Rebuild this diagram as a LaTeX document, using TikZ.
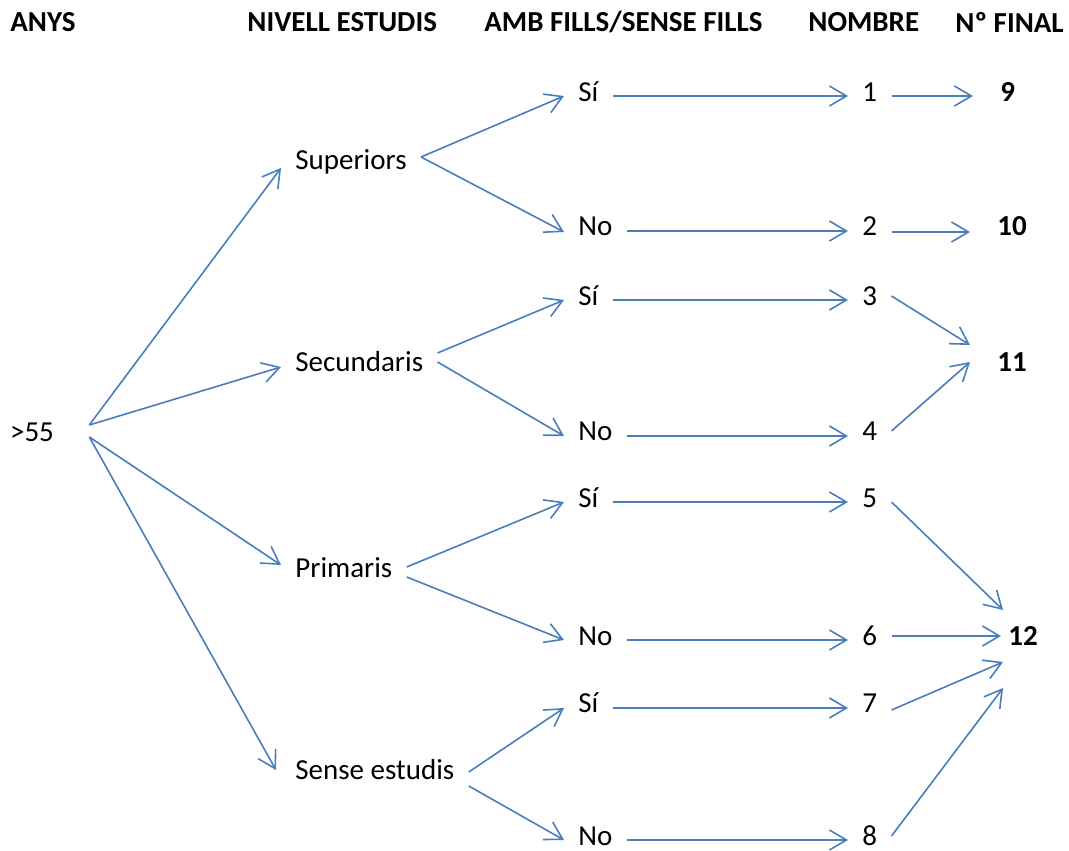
\documentclass[tikz,border=0pt]{standalone}
\usepackage{fontspec}
\setmainfont{Carlito}
\usepackage{tikz}
\usetikzlibrary{arrows.meta}

\definecolor{linkblue}{RGB}{74,126,187}

\begin{document}
\begin{tikzpicture}[x=0.5pt, y=-0.5pt,
    font=\fontsize{14.5}{17}\selectfont,
    head/.style={anchor=west, inner sep=0pt, font=\fontsize{14.5}{17}\selectfont\bfseries},
    item/.style={anchor=west, inner xsep=7pt, inner ysep=0pt, text height=9.3pt, text depth=0pt},
    final/.style={item, inner xsep=13.5pt, font=\fontsize{14.5}{17}\selectfont\bfseries},
    link/.style={-{Straight Barb[length=8.5pt, width=10pt]}, draw=linkblue, line width=0.8pt}]
  \useasboundingbox (0,0) rectangle (1069,850);

  % column titles
  \node[head] at (10,22) (tAnys) {ANYS};
  \node[head] at (247,22) (tNivell) {NIVELL ESTUDIS};
  \node[head] at (484,22) (tFills) {AMB FILLS/SENSE FILLS};
  \node[head] at (808,22) (tNombre) {NOMBRE};
  \node[head] at (955,22) (tFinal) {Nº FINAL};

  % tree
  \node[item, anchor=center, inner xsep=17.5pt] at (32,432) (age) {>55};

  \node[item] at (281,160) (sup) {Superiors};
  \node[item] at (281,362) (sec) {Secundaris};
  \node[item] at (281,568) (pri) {Primaris};
  \node[item] at (281,770) (sen) {Sense estudis};

  \node[item] at (564,92) (si1) {Sí};
  \node[item] at (564,226) (no1) {No};
  \node[item] at (564,296) (si2) {Sí};
  \node[item] at (564,431) (no2) {No};
  \node[item] at (564,498) (si3) {Sí};
  \node[item] at (564,636) (no3) {No};
  \node[item] at (564,703) (si4) {Sí};
  \node[item] at (564,836) (no4) {No};

  \node[item] at (848,92) (n1) {1};
  \node[item] at (848,226) (n2) {2};
  \node[item] at (848,296) (n3) {3};
  \node[item] at (848,431) (n4) {4};
  \node[item] at (848,498) (n5) {5};
  \node[item] at (848,636) (n6) {6};
  \node[item] at (848,703) (n7) {7};
  \node[item] at (848,836) (n8) {8};

  \node[final] at (973,92) (f9) {9};
  \node[final] at (970,226) (f10) {10};
  \node[final] at (970,362) (f11) {11};
  \node[final, inner xsep=3.5pt] at (1001,636) (f12) {12};

  % age -> level
  \draw[link] ([yshift=3.5pt]age.east) -- ([yshift=-4pt]sup.west);
  \draw[link] ([yshift=3.5pt]age.east) -- ([yshift=-2.5pt]sec.west);
  \draw[link] ([yshift=-2.5pt]age.east) -- ([yshift=1.5pt]pri.west);
  \draw[link] ([yshift=-2.5pt]age.east) -- ([xshift=-2.5pt]sen.west);

  % level -> children
  \draw[link] ([yshift=1.5pt]sup.east) -- ([yshift=-2pt]si1.west);
  \draw[link] ([yshift=1.5pt]sup.east) -- ([yshift=-3pt]no1.west);
  \draw[link] ([yshift=4.5pt]sec.east) -- ([yshift=-2pt]si2.west);
  \draw[link] (sec.east) -- ([yshift=-2.5pt]no2.west);
  \draw[link] ([yshift=0.5pt]pri.east) -- ([yshift=-2pt]si3.west);
  \draw[link] ([yshift=-4.5pt]pri.east) -- ([yshift=-2pt]no3.west);
  \draw[link] ([yshift=-1pt]sen.east) -- ([yshift=-2.5pt]si4.west);
  \draw[link] ([yshift=-8pt]sen.east) -- ([yshift=-2pt]no4.west);

  % children -> number
  \draw[link] ([yshift=-2pt]si1.east) -- ([yshift=-2pt]n1.west);
  \draw[link] ([yshift=-2.5pt]no1.east) -- ([yshift=-2.5pt]n2.west);
  \draw[link] ([yshift=-2pt]si2.east) -- ([yshift=-2pt]n3.west);
  \draw[link] ([yshift=-2.5pt]no2.east) -- ([yshift=-2.5pt]n4.west);
  \draw[link] ([yshift=-2pt]si3.east) -- ([yshift=-2pt]n5.west);
  \draw[link] ([yshift=-2pt]no3.east) -- ([yshift=-2pt]n6.west);
  \draw[link] ([yshift=-2.5pt]si4.east) -- ([yshift=-2.5pt]n7.west);
  \draw[link] ([yshift=-2pt]no4.east) -- ([yshift=-2pt]n8.west);

  % number -> final
  \draw[link] ([yshift=-2pt]n1.east) -- ([yshift=-2pt]f9.west);
  \draw[link] ([yshift=-3pt]n2.east) -- ([yshift=-3pt]f10.west);
  \draw[link] (n3.east) -- ([yshift=8.5pt]f11.west);
  \draw[link] (n4.east) -- (f11.west);
  \draw[link] ([yshift=-2pt]n5.east) -- ([xshift=1pt, yshift=13pt]f12.west);
  \draw[link] (n6.east) -- (f12.west);
  \draw[link] ([yshift=-3.5pt]n7.east) -- ([xshift=1pt, yshift=-13pt]f12.west);
  \draw[link] (n8.east) -- ([xshift=1pt, yshift=-26pt]f12.west);
\end{tikzpicture}
\end{document}
